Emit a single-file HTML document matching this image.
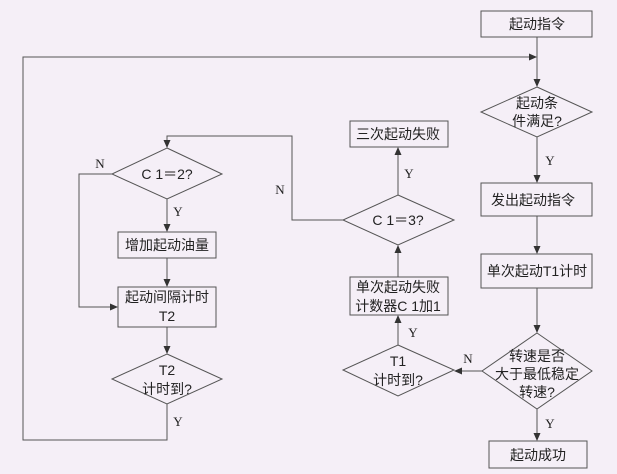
<!DOCTYPE html>
<html><head><meta charset="utf-8"><style>
html,body{margin:0;padding:0;background:#f5eff7;}
svg{display:block;}
text{font-family:"Liberation Sans","Noto Sans CJK SC",sans-serif;font-size:14px;fill:#222;text-anchor:middle;}
.l{font-family:"Liberation Serif",serif;font-size:13px;}
</style></head><body>
<svg width="617" height="474" viewBox="0 0 617 474" xmlns="http://www.w3.org/2000/svg">
<defs><marker id="a" markerWidth="8" markerHeight="8" refX="7" refY="4" orient="auto" markerUnits="userSpaceOnUse"><path d="M0,0.5 L8,4 L0,7.5 Z" fill="#333"/></marker></defs>
<g fill="none" stroke="#555" stroke-width="1">
<rect x="481" y="11" width="111" height="26"/>
<polyline points="537,37 537,86" marker-end="url(#a)"/>
<polyline points="167,404 167,440 23,440 23,57 536,57" marker-end="url(#a)"/>
<polygon points="537,87 592,112 537,137 481,112"/>
<polyline points="537,137 537,182" marker-end="url(#a)"/>
<rect x="481" y="183" width="111" height="33"/>
<polyline points="537,216 537,253" marker-end="url(#a)"/>
<rect x="481" y="254" width="111" height="34"/>
<polyline points="537,288 537,332" marker-end="url(#a)"/>
<polygon points="537,333 592,371 537,409 482,371"/>
<polyline points="537,409 537,440" marker-end="url(#a)"/>
<rect x="489" y="441" width="98" height="27"/>
<polyline points="482,371 455,371" marker-end="url(#a)"/>
<polygon points="398,345 454,370 398,396 343,370"/>
<polyline points="398,345 398,316" marker-end="url(#a)"/>
<rect x="350" y="277" width="98" height="38"/>
<polyline points="398,277 398,246" marker-end="url(#a)"/>
<polygon points="398,195 454,220 398,245 343,220"/>
<polyline points="398,195 398,148" marker-end="url(#a)"/>
<rect x="350" y="121" width="98" height="26"/>
<polyline points="343,220 292,220 292,136 167,136 167,147" marker-end="url(#a)"/>
<polygon points="167,148 222,174 167,199 112,174"/>
<polyline points="167,199 167,231" marker-end="url(#a)"/>
<rect x="118" y="232" width="98" height="26"/>
<polyline points="167,258 167,286" marker-end="url(#a)"/>
<polyline points="112,174 79,174 79,307 117,307" marker-end="url(#a)"/>
<rect x="118" y="287" width="98" height="40"/>
<polyline points="167,327 167,353" marker-end="url(#a)"/>
<polygon points="167,354 222,379 167,404 112,379"/>
</g>
<text x="537" y="29">起动指令</text>
<text x="537" y="108">起动条</text>
<text x="537" y="126">件满足?</text>
<text x="533" y="205">发出起动指令</text>
<text x="537" y="276">单次起动T1计时</text>
<text x="537" y="361">转速是否</text>
<text x="537" y="379">大于最低稳定</text>
<text x="537" y="397">转速?</text>
<text x="538" y="460">起动成功</text>
<text x="398" y="366">T1</text>
<text x="398" y="385">计时到?</text>
<text x="398" y="292">单次起动失败</text>
<text x="398" y="311">计数器C 1加1</text>
<text x="398" y="225">C 1＝3?</text>
<text x="398" y="139">三次起动失败</text>
<text x="167" y="179">C 1＝2?</text>
<text x="167" y="250">增加起动油量</text>
<text x="167" y="302">起动间隔计时</text>
<text x="167" y="321">T2</text>
<text x="167" y="375">T2</text>
<text x="167" y="394">计时到?</text>
<text class="l" x="550" y="165">Y</text>
<text class="l" x="550" y="428">Y</text>
<text class="l" x="468" y="363">N</text>
<text class="l" x="413" y="337">Y</text>
<text class="l" x="409" y="178">Y</text>
<text class="l" x="280" y="194">N</text>
<text class="l" x="100" y="168">N</text>
<text class="l" x="178" y="216">Y</text>
<text class="l" x="178" y="426">Y</text>
</svg>
</body></html>
